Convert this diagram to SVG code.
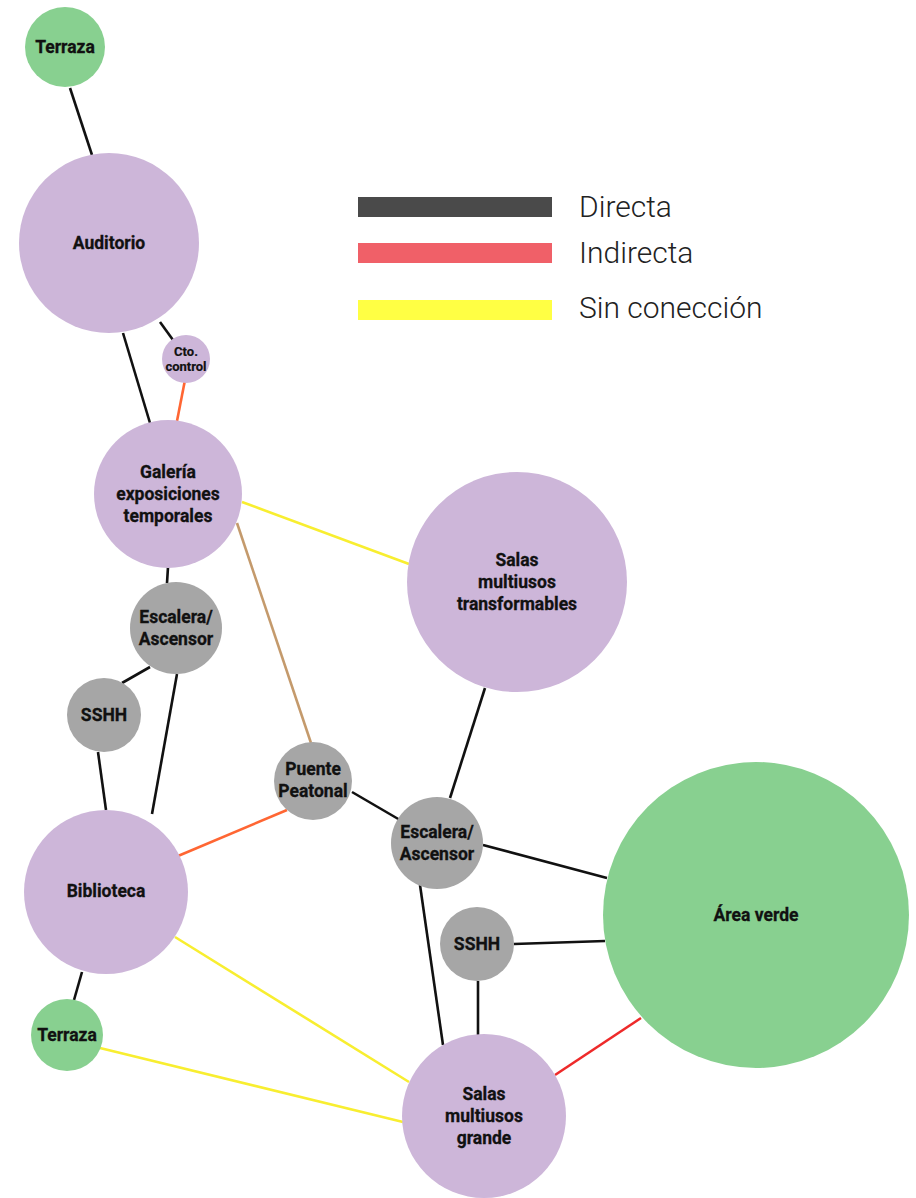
<svg xmlns="http://www.w3.org/2000/svg" width="916" height="1198" viewBox="0 0 916 1198">
<style>
.purple{fill:#cdb6d9}
.green{fill:#88d090}
.gray{fill:#a6a6a6}
.lbl{font-family:Roboto,"Liberation Sans",sans-serif;font-weight:bold;font-size:17.5px;fill:#111;text-anchor:middle;stroke:#111;stroke-width:0.3px}
.sm{font-size:13px;stroke-width:0.2px}
.leg{font-family:Roboto,"Liberation Sans",sans-serif;font-weight:300;font-size:30px;fill:#222}
.c{stroke-width:2.6;fill:none;stroke-linecap:butt}
.d{stroke:#111}
.o{stroke:#ff6633}
.y{stroke:#f8ee30}
.r{stroke:#ee2a2a}
.t{stroke:#c49a6c}
</style>
<rect width="916" height="1198" fill="#ffffff"/>
<g id="legend">
<rect x="358" y="197" width="194" height="20" fill="#4a4a4a"/>
<rect x="358" y="243" width="194" height="20" fill="#f06068"/>
<rect x="358" y="300" width="194" height="20" fill="#ffff44"/>
<text class="leg" x="579" y="217">Directa</text>
<text class="leg" x="579" y="263">Indirecta</text>
<text class="leg" x="579" y="318">Sin conección</text>
</g>
<g id="connectors">
<line class="c d" x1="70" y1="88" x2="92" y2="155"/>
<line class="c d" x1="160" y1="322" x2="173" y2="340"/>
<line class="c o" x1="185" y1="380" x2="177" y2="421"/>
<line class="c d" x1="123" y1="333" x2="150" y2="423"/>
<line class="c y" x1="242" y1="502" x2="409" y2="564"/>
<line class="c t" x1="237" y1="523" x2="311" y2="743"/>
<line class="c d" x1="168" y1="567" x2="167" y2="583"/>
<line class="c d" x1="150" y1="667" x2="122" y2="683"/>
<line class="c d" x1="177" y1="674" x2="152" y2="814"/>
<line class="c d" x1="98" y1="752" x2="106" y2="810"/>
<line class="c o" x1="287" y1="810" x2="178" y2="856"/>
<line class="c d" x1="352" y1="792" x2="400" y2="820"/>
<line class="c d" x1="485" y1="688" x2="450" y2="798"/>
<line class="c d" x1="483" y1="845" x2="607" y2="878"/>
<line class="c d" x1="420" y1="885" x2="443" y2="1045"/>
<line class="c d" x1="514" y1="944" x2="605" y2="941"/>
<line class="c d" x1="478" y1="981" x2="478" y2="1035"/>
<line class="c r" x1="641" y1="1018" x2="555" y2="1075"/>
<line class="c y" x1="175" y1="937" x2="409" y2="1082"/>
<line class="c y" x1="100" y1="1048" x2="403" y2="1122"/>
<line class="c d" x1="82" y1="972" x2="74" y2="1000"/>
</g>
<g id="terraza-top"><circle class="green" cx="65" cy="47" r="40"/><text class="lbl" x="65" y="53">Terraza</text></g>
<g id="auditorio"><circle class="purple" cx="109" cy="243" r="90"/><text class="lbl" x="109" y="249">Auditorio</text></g>
<g id="cto-control"><circle class="purple" cx="186" cy="359" r="24"/><text class="lbl sm" x="186" y="356">Cto.</text><text class="lbl sm" x="186" y="371">control</text></g>
<g id="galeria"><circle class="purple" cx="168" cy="494" r="74"/><text class="lbl" x="168" y="478">Galería</text><text class="lbl" x="168" y="500">exposiciones</text><text class="lbl" x="168" y="522">temporales</text></g>
<g id="salas-transformables"><circle class="purple" cx="517" cy="582" r="110"/><text class="lbl" x="517" y="566">Salas</text><text class="lbl" x="517" y="588">multiusos</text><text class="lbl" x="517" y="610">transformables</text></g>
<g id="escalera-izq"><circle class="gray" cx="176" cy="628" r="46"/><text class="lbl" x="176" y="623">Escalera/</text><text class="lbl" x="176" y="645">Ascensor</text></g>
<g id="sshh-izq"><circle class="gray" cx="104" cy="715" r="37"/><text class="lbl" x="104" y="721">SSHH</text></g>
<g id="puente"><circle class="gray" cx="313" cy="781" r="39"/><text class="lbl" x="313" y="775">Puente</text><text class="lbl" x="313" y="797">Peatonal</text></g>
<g id="escalera-der"><circle class="gray" cx="437" cy="843" r="46"/><text class="lbl" x="437" y="838">Escalera/</text><text class="lbl" x="437" y="860">Ascensor</text></g>
<g id="biblioteca"><circle class="purple" cx="106" cy="892" r="82"/><text class="lbl" x="106" y="897">Biblioteca</text></g>
<g id="area-verde"><circle class="green" cx="756" cy="915" r="153"/><text class="lbl" x="756" y="921">Área verde</text></g>
<g id="sshh-der"><circle class="gray" cx="477" cy="944" r="37"/><text class="lbl" x="477" y="950">SSHH</text></g>
<g id="terraza-bottom"><circle class="green" cx="67" cy="1035" r="36"/><text class="lbl" x="67" y="1041">Terraza</text></g>
<g id="salas-grande"><circle class="purple" cx="484" cy="1116" r="82"/><text class="lbl" x="484" y="1100">Salas</text><text class="lbl" x="484" y="1122">multiusos</text><text class="lbl" x="484" y="1144">grande</text></g>
</svg>
